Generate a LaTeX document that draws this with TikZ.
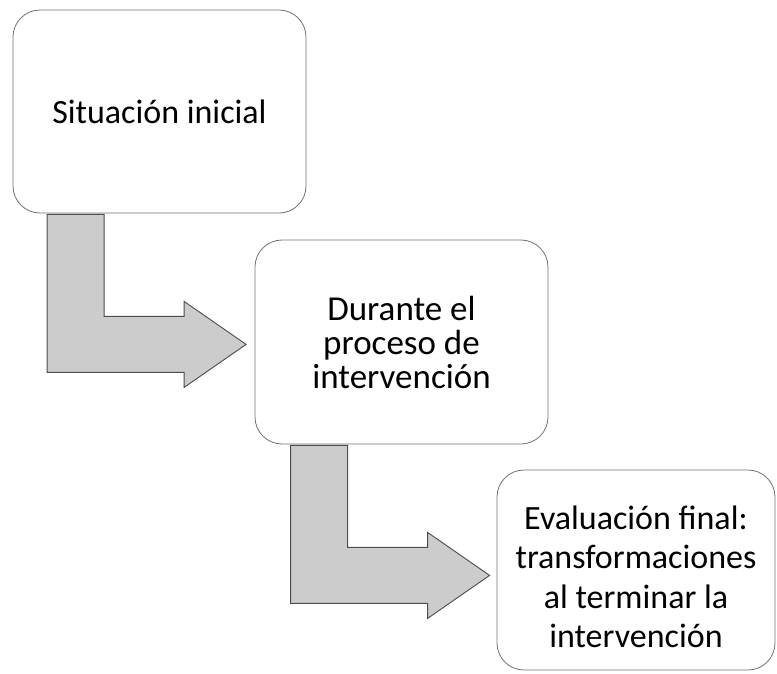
\documentclass[tikz,border=0pt]{standalone}
\usepackage{fontspec}
\setmainfont{Carlito}
\usetikzlibrary{calc}
\begin{document}
\begin{tikzpicture}[
		x=1pt,
		y=-1pt,
		font=\fontsize{34}{34}\selectfont
	]
	\tikzset{
		mybox/.style = {rectangle, rounded corners=27pt, draw=black!55, line width=0.8pt, fill=white, align=center, inner sep=0pt},
		mytext/.style = {align=center, inner sep=0pt},
		myarrow/.style = {draw=black!70, line width=0.9pt, fill=black!20},
		bendarrow/.pic = {
			\path[myarrow] (0,0) -- (57,0) -- (57,102) -- (137,102) -- (137,87)
				-- (199,130) -- (137,173) -- (137,158) -- (0,158) -- cycle;
		},
	}
	\useasboundingbox (0,0) rectangle (777,673);
	\node[mybox, minimum width=293pt, minimum height=203pt] at (159.5,111.5) (s1) {Situación inicial};
	\node[mybox, minimum width=293pt, minimum height=204pt, font=\fontsize{35}{34}\selectfont] at (401.5,342) (s2) {Durante el\\proceso de\\intervención};
	\node[mybox, minimum width=278pt, minimum height=200pt] at (636,570) (s3) {};
	\node[mytext, font=\fontsize{34}{39.5}\selectfont] at ([yshift=-7pt]s3.center) (t3) {Evaluación final:\\transformaciones\\al terminar la\\intervención};
	%
	\pic at ($(s1.south west)+(34.5,1)$) {bendarrow};
	\pic at ($(s2.south west)+(36,1)$) {bendarrow};
\end{tikzpicture}
\end{document}
